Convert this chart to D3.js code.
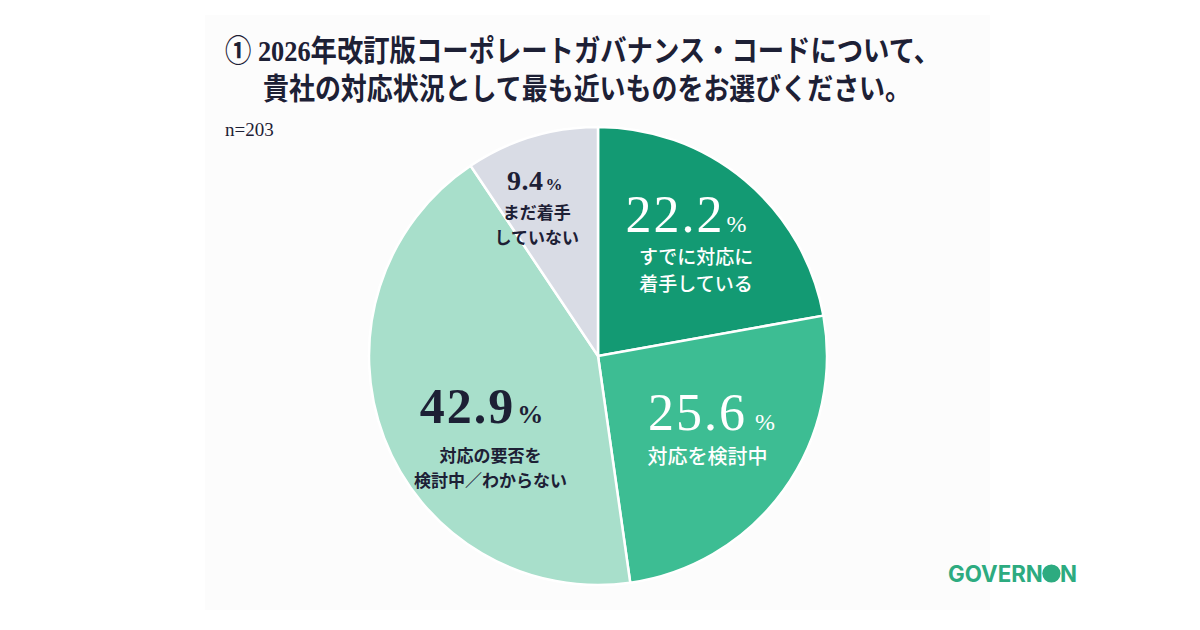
<!DOCTYPE html>
<html><head><meta charset="utf-8">
<script src="https://cdn.jsdelivr.net/npm/d3@7"></script>
<style>
html,body{margin:0;padding:0;background:#fff;}
svg{display:block;}
</style></head>
<body>
<svg id="c" width="1200" height="630"></svg>
<script>
// ---- data ----
const categories = ["すでに対応に着手している", "対応を検討中", "対応の要否を検討中／わからない", "まだ着手していない"];
const values = [22.2, 25.6, 42.9, 9.4];
const labelLines = [["すでに対応に", "着手している"], ["対応を検討中"], ["対応の要否を", "検討中／わからない"], ["まだ着手", "していない"]];
const titleLines = ["① 2026年改訂版コーポレートガバナンス・コードについて、", "貴社の対応状況として最も近いものをお選びください。"];
const sampleNote = "n=203";
const brand = "GOVERNON";

// ---- styles ----
const colors = ["#139a73", "#3dbd93", "#a8dfcb", "#d9dce5"];
const textColors = ["#ffffff", "#ffffff", "#1d2035", "#1d2035"];
const numSize = [52, 52, 50, 28];
const pctSize = [24, 24, 26, 17];
const numWeight = [400, 400, 700, 700];
const subSize = [19, 20, 17, 17];
const subWeight = [500, 500, 700, 700];
const labelShift = [[-5, -13], [-4, -11], [19, 15], [-21, -27]];
const subShift = [[10, 32, 27], [-4, 34, 0], [9, 39, 25], [2, 29, 25]];

const svg = d3.select("#c");
const dark = "#1d2035";
const serif = "'Liberation Serif','DejaVu Serif','Noto Sans CJK JP',serif";
const cjk = "'Liberation Serif','Noto Sans CJK JP',sans-serif";

svg.append("rect").attr("x", 205).attr("y", 15).attr("width", 785).attr("height", 595).attr("fill", "#fcfcfc");

// title
svg.append("text").attr("x", 225).attr("y", 61).attr("fill", dark)
  .attr("font-family", cjk).attr("font-weight", 700).attr("font-size", 30)
  .attr("textLength", 715).attr("lengthAdjust", "spacingAndGlyphs").text(titleLines[0]);
svg.append("text").attr("x", 263).attr("y", 99).attr("fill", dark)
  .attr("font-family", cjk).attr("font-weight", 700).attr("font-size", 30)
  .attr("textLength", 648).attr("lengthAdjust", "spacingAndGlyphs").text(titleLines[1]);
svg.append("text").attr("x", 225).attr("y", 136).attr("fill", dark)
  .attr("font-family", serif).attr("font-size", 19).text(sampleNote);

// pie
const cx = 598, cy = 356, R = 229;
const g = svg.append("g").attr("transform", `translate(${cx},${cy})`);
const pie = d3.pie().sort(null).value(d => d)(values);
const arc = d3.arc().innerRadius(0).outerRadius(R);
const labelArc = d3.arc().innerRadius(290).outerRadius(0);

g.selectAll("path.slice").data(pie).join("path")
  .attr("class", "slice").attr("d", arc)
  .attr("fill", (d, i) => colors[i]).attr("stroke", "#fff").attr("stroke-width", 2.5);

pie.forEach((d, i) => {
  const c = labelArc.centroid(d);
  const x = c[0] + labelShift[i][0], y = c[1] + labelShift[i][1];
  const t = g.append("text").attr("x", x).attr("y", y).attr("text-anchor", "middle")
    .attr("fill", textColors[i]).attr("font-family", serif);
  t.append("tspan").attr("font-size", numSize[i]).attr("font-weight", numWeight[i])
    .attr("letter-spacing", i === 3 ? 0.5 : 2).text(values[i].toFixed(1));
  t.append("tspan").attr("font-size", pctSize[i]).attr("font-weight", numWeight[i]).attr("dx", i === 1 ? 8 : 2).text("%");
  labelLines[i].forEach((ln, j) => {
    g.append("text").attr("x", x + subShift[i][0]).attr("y", y + subShift[i][1] + j * subShift[i][2])
      .attr("text-anchor", "middle").attr("fill", textColors[i])
      .attr("font-family", "'Noto Sans CJK JP',sans-serif").attr("font-weight", subWeight[i])
      .attr("font-size", subSize[i]).text(ln);
  });
});

// brand
const bt = svg.append("text").attr("x", 948).attr("y", 582).attr("fill", "#2dab80")
  .attr("font-family", "Inter,Roboto,sans-serif").attr("font-weight", 700).attr("font-size", 23)
  .attr("textLength", 129).attr("lengthAdjust", "spacingAndGlyphs").text(brand);
try {
  const ext = bt.node().getExtentOfChar(6);
  svg.append("circle").attr("cx", ext.x + ext.width / 2).attr("cy", 573.5)
    .attr("r", Math.min(ext.width, 17.5) / 2 + 0.5).attr("fill", "#2dab80");
} catch (e) {}
</script>
</body></html>
